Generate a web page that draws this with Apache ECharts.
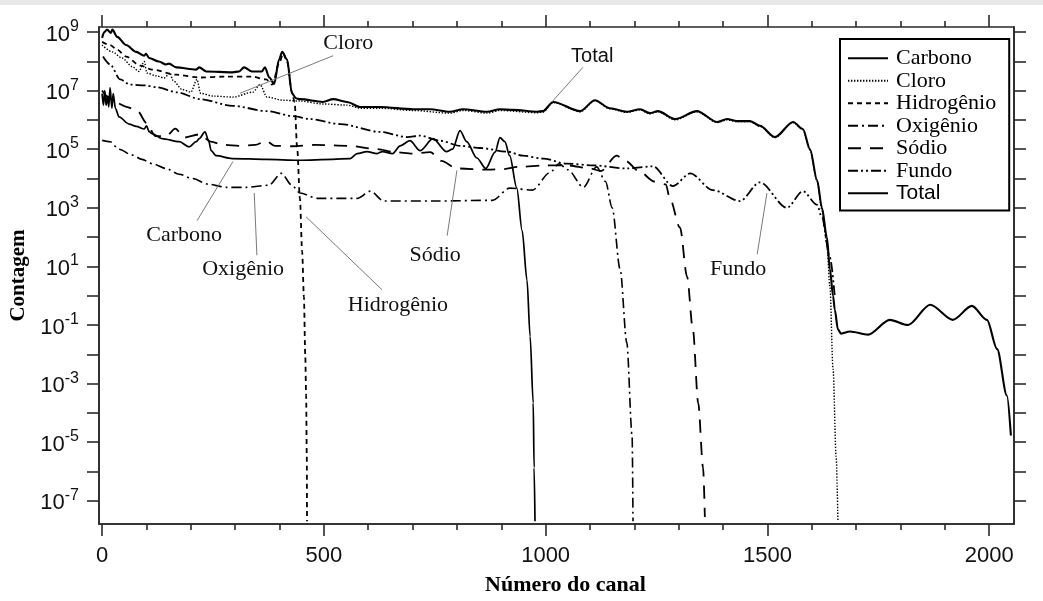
<!DOCTYPE html>
<html><head><meta charset="utf-8">
<script src="https://cdn.jsdelivr.net/npm/echarts@6/dist/echarts.min.js"></script>
<style>html,body{margin:0;padding:0;background:#fff}#c{width:1043px;height:601px}</style>
</head><body><div id="c"></div>
<script>
// ---- data: [channel, count] ----
const carbono = [[0,7.9e6],[3,3.2e6],[6,1.0e7],[9,3.2e6],[12,6.3e6],[15,2.8e6],[18,1.26e7],[22,2.5e6],[25,7.9e6],[30,2.5e6],[38,1.26e6],[61,7.2e5],[77,6.0e5],[95,4.9e5],[100,6.3e5],[106,4.0e5],[113,3.4e5],[135,2.3e5],[174,1.8e5],[196,1.2e5],[212,1.8e5],[219,2.3e5],[232,3.9e5],[240,2.0e5],[246,8.9e4],[257,6.0e4],[293,4.8e4],[370,4.5e4],[444,4.2e4],[520,4.5e4],[559,4.8e4],[575,7.1e4],[597,8.3e4],[620,7.1e4],[632,8.3e4],[655,7.1e4],[672,1.3e5],[694,1.95e5],[717,8.9e4],[746,2.3e5],[776,8.3e4],[790,1.0e5],[807,4.3e5],[822,1.8e5],[845,5.0e4],[865,2.2e4],[886,7.9e4],[897,2.5e5],[908,1.8e5],[919,6.0e4],[935,4.7e3],[947,166],[958,3.4],[965,0.041],[972,2.2e-4],[974,1.35e-6],[976,2.0e-8]];
const cloro = [[0,3.6e8],[23,2.1e8],[45,1.3e8],[68,6.6e7],[83,4.5e7],[95,9.8e7],[101,4.0e7],[122,3.2e7],[140,2.7e7],[153,4.0e7],[160,2.2e7],[180,1.1e7],[200,8.9e6],[214,2.4e7],[222,8.1e6],[250,6.5e6],[295,6.0e6],[340,8.9e6],[356,1.6e7],[372,6.0e6],[408,4.7e6],[446,4.4e6],[498,3.5e6],[552,3.2e6],[582,2.5e6],[627,2.5e6],[701,2.1e6],[784,1.7e6],[814,2.1e6],[868,1.7e6],[897,2.1e6],[981,1.75e6],[994,1.85e6],[1017,3.9e6],[1078,1.9e6],[1111,4.5e6],[1145,2.4e6],[1183,1.8e6],[1213,2.2e6],[1235,1.6e6],[1253,1.9e6],[1292,1.0e6],[1341,1.9e6],[1387,8.1e5],[1409,1.0e6],[1431,8.7e5],[1461,8.7e5],[1483,6.0e5],[1517,2.5e5],[1558,8.1e5],[1580,4.6e5],[1596,9.4e4],[1612,8.0e3],[1623,850],[1634,60],[1641,2.0],[1648,3.2e-3],[1655,3.2e-6],[1659,2.0e-8]];
const hidrogenio = [[0,4.6e8],[18,3.6e8],[34,2.5e8],[54,1.45e8],[86,7.1e7],[113,5.2e7],[167,3.5e7],[219,2.8e7],[280,3.0e7],[338,3.0e7],[370,2.4e7],[383,1.6e7],[401,1.0e8],[408,1.9e8],[417,1.0e8],[428,8.9e6],[434,4.0e6],[440,1.0e5],[446,2.1e3],[451,32],[455,0.91],[458,0.01],[460,3.9e-4],[461.5,3.2e-6],[462,2.0e-8]];
const oxigenio = [[0,2.0e5],[18,1.8e5],[38,1.0e5],[68,6.3e4],[90,4.5e4],[113,3.2e4],[144,2.2e4],[174,1.4e4],[203,1.0e4],[241,6.3e3],[280,5.0e3],[325,5.0e3],[376,5.9e3],[404,1.5e4],[428,5.9e3],[446,3.2e3],[485,2.1e3],[575,2.1e3],[605,3.7e3],[635,1.7e3],[750,1.7e3],[880,1.8e3],[919,4.7e3],[970,4.0e3],[1010,1.6e4],[1030,3.2e4],[1050,2.0e4],[1085,5.0e3],[1115,2.5e4],[1135,7.9e3],[1150,1.0e3],[1168,7.9],[1183,0.025],[1195,1.7e-5],[1197,2.0e-8]];
const sodio = [[0,1.0e7],[12,6.3e6],[30,4.0e6],[55,2.8e6],[80,2.0e6],[100,7.9e5],[120,2.8e5],[145,2.8e5],[165,5.0e5],[185,2.5e5],[220,3.2e5],[245,1.8e5],[275,1.4e5],[310,1.3e5],[345,1.4e5],[370,1.9e5],[390,1.3e5],[430,1.26e5],[480,1.4e5],[559,1.3e5],[620,1.0e5],[660,7.9e4],[700,7.1e4],[740,7.9e4],[765,4.0e4],[800,2.2e4],[870,2.0e4],[905,2.1e4],[940,2.5e4],[1000,2.8e4],[1050,2.8e4],[1100,2.2e4],[1125,1.8e4],[1160,6.0e4],[1180,4.0e4],[1210,1.8e4],[1245,7.9e3],[1271,6.3e3],[1280,2.1e3],[1303,210],[1319,4.4],[1332,0.071],[1344,2.2e-4],[1355,1.35e-6],[1359,2.8e-8]];
const fundo = [[2,1.45e8],[18,7.8e7],[41,2.4e7],[63,1.6e7],[97,1.5e7],[124,1.3e7],[169,8.7e6],[221,5.1e6],[295,3.0e6],[372,2.0e6],[431,1.35e6],[469,1.07e6],[537,7.2e5],[627,3.9e5],[688,2.6e5],[717,2.9e5],[762,1.95e5],[807,1.3e5],[852,1.1e5],[913,8.3e4],[949,6.0e4],[994,4.8e4],[1048,3.2e4],[1107,2.8e4],[1183,2.2e4],[1242,2.6e4],[1287,5.5e3],[1326,1.5e4],[1377,4.0e3],[1438,1.7e3],[1483,7.4e3],[1544,1.0e3],[1580,3.7e3],[1612,1.26e3],[1623,460],[1641,20],[1652,0.91]];
const total = [[0,6.3e8],[5,1.0e9],[11,1.2e9],[20,9.3e8],[23,1.2e9],[34,6.8e8],[54,3.6e8],[77,2.1e8],[95,1.55e8],[99,1.8e8],[106,1.3e8],[128,9.8e7],[144,7.8e7],[151,8.3e7],[167,6.2e7],[212,5.2e7],[219,6.2e7],[235,4.5e7],[294,4.2e7],[309,4.5e7],[320,6.2e7],[338,4.5e7],[360,4.5e7],[367,6.2e7],[377,2.8e7],[388,1.7e7],[399,1.15e8],[406,2.1e8],[417,1.15e8],[428,8.1e6],[437,5.5e6],[446,5.1e6],[498,4.1e6],[521,5.1e6],[552,4.1e6],[582,2.75e6],[627,2.75e6],[701,2.3e6],[739,2.3e6],[784,1.9e6],[814,2.3e6],[868,1.9e6],[897,2.3e6],[927,2.2e6],[981,1.9e6],[994,2.0e6],[1017,4.1e6],[1078,2.0e6],[1111,4.7e6],[1145,2.5e6],[1183,1.9e6],[1213,2.3e6],[1235,1.7e6],[1253,2.0e6],[1292,1.07e6],[1341,2.0e6],[1387,8.5e5],[1409,1.07e6],[1431,9.1e5],[1461,9.1e5],[1483,6.3e5],[1517,2.6e5],[1558,8.5e5],[1580,4.9e5],[1596,1.0e5],[1612,8.9e3],[1623,1.0e3],[1634,100],[1641,7.9],[1648,1.0],[1652,0.33],[1659,0.071],[1666,0.051],[1686,0.060],[1727,0.047],[1776,0.15],[1817,0.10],[1867,0.49],[1918,0.15],[1961,0.45],[1995,0.15],[2018,0.015],[2040,3.9e-4],[2049,1.7e-5]];

// ---- ticks / labels ----
const xMajorTicks = [0, 500, 1000, 1500, 2000];
const xMinorTicks = [100,200,300,400,600,700,800,900,1100,1200,1300,1400,1600,1700,1800,1900];
const yTicks = [1e-7,1e-6,1e-5,1e-4,1e-3,1e-2,1e-1,1,1e1,1e2,1e3,1e4,1e5,1e6,1e7,1e8,1e9];
const yLabels = [1e-7,1e-5,1e-3,1e-1,1e1,1e3,1e5,1e7,1e9];

// ---- annotations (data coordinates) ----
const annotations = [
  {text:'Cloro', at:[555,4.0e8], from:[521,1.55e8], to:[311,8.1e6]},
  {text:'Total', at:[1105,1.45e8], from:[1084,6.2e7], to:[1014,4.1e6], sans:true},
  {text:'Carbono', at:[185,112], from:[214,363], to:[295,3.8e4]},
  {text:'Oxigênio', at:[318,8.1], from:[349,24], to:[343,3.2e3]},
  {text:'Sódio', at:[751,24], from:[778,112], to:[800,1.9e4]},
  {text:'Hidrogênio', at:[667,0.49], from:[631,1.6], to:[460,490]},
  {text:'Fundo', at:[1434,8.1], from:[1477,26], to:[1499,3.2e3]}
];

const X_MIN = -7, X_MAX = 2056, Y_MIN = 1.62e-8, Y_MAX = 1.48e9;
const AX = '#2a2a2a';
const SERIF = '"Liberation Serif", "DejaVu Serif", serif';
const SANS = '"Liberation Sans", Arial, sans-serif';

function mkSeries(name, data, dash, width) {
  return {
    name, type: 'line', data, symbol: 'none', showSymbol: false,
    smooth: 0.3, smoothMonotone: 'x', silent: true,
    lineStyle: { color: '#000', width, type: dash },
    itemStyle: { color: '#000' }
  };
}

const chart = echarts.init(document.getElementById('c'), null, { renderer: 'canvas' });

function xAx(position, ticks, len, main) {
  return {
    type: 'value', min: X_MIN, max: X_MAX, position,
    axisLine: { show: main, onZero: false, lineStyle: { color: AX, width: 1.6 } },
    axisTick: { show: true, inside: false, length: len, customValues: ticks, lineStyle: { color: AX, width: 1.6 } },
    axisLabel: main && position === 'bottom' ? {
      show: true, customValues: xMajorTicks, margin: 21, formatter: v => String(v),
      fontFamily: SANS, fontSize: 22, color: '#111'
    } : { show: false },
    splitLine: { show: false },
    name: main && position === 'bottom' ? 'Número do canal' : '',
    nameLocation: 'middle', nameGap: 50,
    nameTextStyle: { fontFamily: SERIF, fontWeight: 'bold', fontSize: 22, color: '#000', padding:[0,0,0,18] }
  };
}
function yAx(position, main) {
  return {
    type: 'log', logBase: 10, min: Y_MIN, max: Y_MAX, position,
    axisLine: { show: true, onZero: false, lineStyle: { color: AX, width: 1.6 } },
    axisTick: { show: true, inside: false, length: 12, customValues: yTicks, lineStyle: { color: AX, width: 1.6 } },
    axisLabel: main ? {
      show: true, customValues: yLabels, margin: 20,
      formatter: v => '{b|10}{s|' + Math.round(Math.log10(v)) + '}',
      rich: {
        b: { fontFamily: SANS, fontSize: 22, color: '#111', verticalAlign: 'bottom' },
        s: { fontFamily: SANS, fontSize: 16, color: '#111', verticalAlign: 'bottom', padding: [0, 0, 11, 0] }
      }
    } : { show: false },
    splitLine: { show: false }, minorTick: { show: false },
    name: main ? 'Contagem' : '', nameLocation: 'middle', nameGap: 69, nameRotate: 90,
    nameTextStyle: { fontFamily: SERIF, fontWeight: 'bold', fontSize: 21, color: '#000' }
  };
}

const legendNames = ['Carbono','Cloro','Hidrogênio','Oxigênio','Sódio','Fundo','Total'];

chart.setOption({
  animation: false,
  backgroundColor: '#fff',
  grid: { left: 99, right: 29, top: 27, bottom: 71, show: true, borderColor: AX, borderWidth: 1.6, containLabel: false },
  xAxis: [xAx('bottom', xMajorTicks, 12, true), xAx('bottom', xMinorTicks, 6, false),
          xAx('top', xMajorTicks, 12, false), xAx('top', xMinorTicks, 6, false)],
  yAxis: [yAx('left', true), yAx('right', false)],
  legend: {
    orient: 'vertical', left: 840, top: 39,
    padding: [8, 13, 6, 7], itemGap: 0, itemWidth: 40, itemHeight: 14,
    backgroundColor: '#fff', borderColor: '#000', borderWidth: 2, borderRadius: 0,
    selectedMode: false,
    itemStyle: { opacity: 0 },
    textStyle: { fontFamily: SERIF, fontSize: 22, color: '#000', lineHeight: 22.5, padding: [0,0,0,3] },
    data: legendNames.map(n => n === 'Total'
      ? { name: n, textStyle: { fontFamily: SANS, fontSize: 21, color: '#000', lineHeight: 22.5, padding:[0,0,0,3] } }
      : { name: n })
  },
  series: [
    mkSeries('Carbono', carbono, 'solid', 1.7),
    mkSeries('Cloro', cloro, [1.4, 1.6], 1.4),
    mkSeries('Hidrogênio', hidrogenio, [5, 4], 1.8),
    mkSeries('Oxigênio', oxigenio, [10, 4, 2, 4], 1.6),
    mkSeries('Sódio', sodio, [13, 9], 1.8),
    mkSeries('Fundo', fundo, [10, 3, 2, 3, 2, 3], 1.8),
    mkSeries('Total', total, 'solid', 2.1)
  ]
});

const toPx = p => chart.convertToPixel({ xAxisIndex: 0, yAxisIndex: 0 }, p);
const gfx = [{ type: 'rect', shape: { x: 0, y: 0, width: 1043, height: 5 }, style: { fill: '#e9e9e9' }, silent: true }];
annotations.forEach((a, i) => {
  const f = toPx(a.from), t = toPx(a.to), c = toPx(a.at);
  gfx.push({ type: 'line', silent: true, z: 5, shape: { x1: f[0], y1: f[1], x2: t[0], y2: t[1] }, style: { stroke: '#7a7a7a', lineWidth: 1 } });
  gfx.push({ type: 'text', silent: true, z: 6, x: c[0], y: c[1], style: {
    text: a.text, align: 'center', verticalAlign: 'middle',
    font: a.sans ? ('20px ' + SANS) : ('22px ' + SERIF), fill: '#111'
  }});
});
chart.setOption({ graphic: gfx });
</script></body></html>
